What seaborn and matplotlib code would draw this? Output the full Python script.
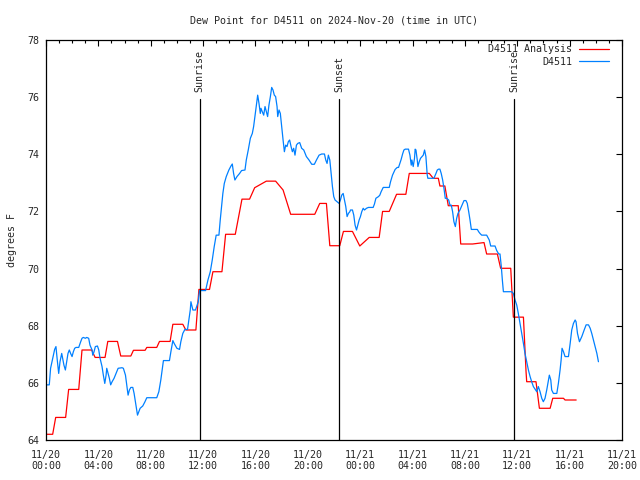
import matplotlib
matplotlib.use("Agg")
import matplotlib.pyplot as plt
import matplotlib.dates as mdates
import seaborn as sns
import pandas as pd

# time axis (UTC)
START = pd.Timestamp("2024-11-20 00:00")
END = pd.Timestamp("2024-11-21 20:00")

# D4511 Analysis: hours after 11/20 00:00, dew point (F)
ANALYSIS_HOURS = [0.0, 0.51, 0.74, 1.5, 1.73, 2.5, 2.75, 3.49, 3.75, 4.51, 4.72, 5.46,
                  5.71, 6.48, 6.68, 7.57, 7.7, 8.46, 8.67, 9.48, 9.69, 10.45, 10.68, 11.45,
                  11.68, 12.49, 12.75, 13.44, 13.72, 14.46, 14.97, 15.55, 15.94, 16.83,
                  17.54, 18.11, 18.69, 20.53, 20.91, 21.42, 21.68, 22.44, 22.72, 23.41,
                  23.97, 24.69, 25.45, 25.71, 26.22, 26.78, 27.49, 27.75, 29.28, 29.58,
                  29.97, 30.09, 30.47, 30.73, 31.49, 31.68, 32.59, 33.46, 33.66, 34.48,
                  34.73, 35.5, 35.7, 36.47, 36.67, 36.72, 37.43, 37.69, 38.51, 38.71,
                  39.53, 39.65, 40.5]
ANALYSIS_VALUES = [64.2, 64.2, 64.79, 64.79, 65.77, 65.77, 67.15, 67.15, 66.89, 66.89,
                   67.45, 67.45, 66.94, 66.94, 67.14, 67.14, 67.24, 67.24, 67.45, 67.45,
                   68.05, 68.05, 67.85, 67.85, 69.27, 69.27, 69.89, 69.89, 71.2, 71.2,
                   72.43, 72.43, 72.83, 73.06, 73.06, 72.75, 71.9, 71.9, 72.28, 72.28,
                   70.8, 70.8, 71.3, 71.3, 70.79, 71.09, 71.09, 72.0, 72.0, 72.6, 72.6,
                   73.33, 73.33, 73.16, 73.16, 72.89, 72.89, 72.2, 72.2, 70.86, 70.86,
                   70.91, 70.51, 70.51, 70.01, 70.01, 68.3, 68.3, 66.39, 66.04, 66.04,
                   65.11, 65.11, 65.46, 65.46, 65.4, 65.4]

# D4511 station observations
STATION_HOURS = [0.0, 0.25, 0.35, 0.51, 0.66, 0.76, 0.86, 0.97, 1.07, 1.2, 1.27, 1.37,
                 1.48, 1.58, 1.68, 1.78, 1.88, 1.99, 2.09, 2.19, 2.29, 2.5, 2.65, 2.75,
                 2.85, 3.01, 3.11, 3.26, 3.36, 3.52, 3.57, 3.67, 3.77, 3.93, 4.03, 4.13,
                 4.28, 4.38, 4.49, 4.59, 4.64, 4.74, 4.84, 4.94, 5.05, 5.2, 5.35, 5.51,
                 5.81, 5.91, 6.07, 6.17, 6.27, 6.37, 6.48, 6.63, 6.73, 6.83, 6.93, 6.99,
                 7.09, 7.19, 7.39, 7.55, 7.7, 8.46, 8.62, 8.77, 8.87, 8.97, 9.43, 9.54,
                 9.69, 9.79, 10.0, 10.2, 10.3, 10.45, 10.61, 10.81, 10.91, 11.02, 11.07,
                 11.22, 11.42, 11.63, 11.73, 12.19, 12.37, 12.55, 12.7, 12.85, 13.0,
                 13.21, 13.31, 13.41, 13.51, 13.62, 13.77, 13.97, 14.13, 14.23, 14.33,
                 14.43, 14.59, 14.79, 14.94, 15.2, 15.3, 15.45, 15.61, 15.76, 15.86,
                 15.96, 16.06, 16.17, 16.27, 16.37, 16.42, 16.52, 16.63, 16.73, 16.83,
                 16.93, 17.03, 17.14, 17.24, 17.34, 17.44, 17.54, 17.65, 17.7, 17.8,
                 17.9, 18.0, 18.11, 18.21, 18.31, 18.41, 18.51, 18.61, 18.72, 18.82,
                 18.92, 19.02, 19.13, 19.23, 19.38, 19.53, 19.69, 19.89, 20.09, 20.3,
                 20.5, 20.66, 20.86, 21.06, 21.27, 21.37, 21.47, 21.57, 21.68, 21.78,
                 21.88, 21.98, 22.08, 22.24, 22.39, 22.49, 22.59, 22.7, 22.8, 22.9,
                 23.0, 23.1, 23.21, 23.26, 23.41, 23.51, 23.61, 23.72, 23.82, 23.92,
                 24.02, 24.12, 24.23, 24.33, 24.48, 24.63, 24.99, 25.09, 25.2, 25.4,
                 25.5, 25.6, 25.76, 26.22, 26.32, 26.47, 26.67, 26.83, 26.93, 27.03,
                 27.13, 27.24, 27.34, 27.44, 27.69, 27.8, 27.9, 27.95, 28.05, 28.15,
                 28.2, 28.26, 28.36, 28.41, 28.51, 28.61, 28.82, 28.92, 29.02, 29.07,
                 29.12, 29.17, 29.63, 29.79, 29.89, 29.99, 30.09, 30.19, 30.3, 30.4,
                 30.5, 30.6, 30.76, 30.86, 30.96, 31.06, 31.16, 31.27, 31.37, 31.47,
                 31.62, 31.78, 31.93, 32.08, 32.18, 32.29, 32.39, 32.49, 32.95, 33.05,
                 33.15, 33.28, 33.66, 33.86, 33.97, 34.3, 34.43, 34.58, 34.68, 34.78,
                 34.86, 34.94, 35.57, 35.7, 35.83, 35.96, 36.08, 36.21, 36.34, 36.47,
                 36.59, 36.72, 36.85, 36.98, 37.1, 37.23, 37.49, 37.61, 37.74, 37.87,
                 37.99, 38.12, 38.25, 38.38, 38.45, 38.56, 38.63, 38.76, 39.02, 39.14,
                 39.27, 39.35, 39.42, 39.53, 39.65, 39.91, 40.04, 40.16, 40.29, 40.42,
                 40.49, 40.6, 40.75, 40.93, 41.11, 41.26, 41.44, 41.57, 41.69, 41.82,
                 41.95, 42.08, 42.2]
STATION_VALUES = [65.93, 65.93, 66.51, 66.86, 67.17, 67.27, 66.8, 66.33, 66.74, 67.03,
                  66.86, 66.62, 66.45, 66.74, 67.03, 67.15, 67.03, 66.92, 67.09, 67.21,
                  67.24, 67.24, 67.44, 67.56, 67.59, 67.56, 67.59, 67.56, 67.32, 67.15,
                  66.97, 67.09, 67.27, 67.29, 67.15, 66.86, 66.57, 66.27, 65.98, 66.27,
                  66.51, 66.33, 66.16, 65.93, 66.04, 66.16, 66.33, 66.51, 66.53, 66.51,
                  66.27, 65.93, 65.57, 65.75, 65.84, 65.84, 65.63, 65.34, 65.05, 64.87,
                  64.99, 65.11, 65.19, 65.33, 65.48, 65.48, 65.69, 66.1, 66.45, 66.78,
                  66.78, 67.09, 67.48, 67.38, 67.21, 67.17, 67.44, 67.73, 67.87, 67.87,
                  68.2, 68.55, 68.84, 68.55, 68.55, 68.84, 69.23, 69.23, 69.6, 69.89,
                  70.3, 70.77, 71.17, 71.17, 71.7, 72.17, 72.63, 72.98, 73.22, 73.45,
                  73.59, 73.66, 73.33, 73.1, 73.22, 73.33, 73.43, 73.45, 73.8, 74.15,
                  74.56, 74.73, 74.97, 75.32, 75.67, 76.07, 75.78, 75.43, 75.61, 75.49,
                  75.37, 75.67, 75.49, 75.32, 75.72, 76.02, 76.34, 76.25, 76.07, 76.02,
                  75.67, 75.32, 75.55, 75.43, 74.97, 74.5, 74.09, 74.32, 74.27, 74.44,
                  74.5, 74.27, 74.09, 74.21, 73.97, 74.32, 74.38, 74.41, 74.21, 74.15,
                  73.92, 73.8, 73.65, 73.65, 73.8, 73.97, 74.01, 74.01, 73.8, 73.68,
                  73.97, 73.8, 73.33, 72.87, 72.52, 72.4, 72.34, 72.28, 72.4, 72.57,
                  72.63, 72.4, 72.17, 71.82, 71.93, 71.99, 72.05, 72.05, 71.87, 71.52,
                  71.35, 71.52, 71.7, 71.82, 71.99, 72.11, 72.05, 72.11, 72.14, 72.14,
                  72.26, 72.46, 72.52, 72.57, 72.69, 72.84, 72.84, 73.04, 73.27, 73.47,
                  73.54, 73.54, 73.68, 73.82, 74.01, 74.15, 74.18, 74.18, 73.97, 73.62,
                  73.8, 73.57, 73.86, 74.18, 74.15, 73.8, 73.57, 73.74, 73.86, 73.97,
                  74.15, 73.92, 73.62, 73.28, 73.16, 73.16, 73.33, 73.45, 73.48, 73.48,
                  73.33, 73.1, 72.81, 72.46, 72.46, 72.4, 72.22, 72.22, 71.99, 71.64,
                  71.47, 71.76, 71.93, 72.05, 72.22, 72.38, 72.38, 72.28, 71.99, 71.7,
                  71.37, 71.37, 71.29, 71.23, 71.17, 71.17, 71.0, 70.79, 70.79, 70.63,
                  70.51, 70.51, 70.07, 69.6, 69.19, 69.19, 69.13, 68.9, 68.72, 68.43,
                  68.08, 67.73, 67.38, 67.03, 66.74, 66.45, 66.22, 66.04, 65.87, 65.69,
                  65.87, 65.69, 65.46, 65.34, 65.46, 65.75, 66.1, 66.27, 66.1, 65.75,
                  65.63, 65.63, 65.98, 66.45, 66.8, 67.21, 67.09, 66.92, 66.92, 67.38,
                  67.85, 68.08, 68.2, 68.14, 67.73, 67.44, 67.62, 67.85, 68.03, 68.03,
                  67.91, 67.73, 67.5, 67.27, 67.03, 66.74]

SUN_LABELS = ["Sunrise", "Sunset", "Sunrise"]
SUN_TIMES = ["2024-11-20 11:45", "2024-11-20 22:23", "2024-11-21 11:47"]

Y_TICKS = [64, 66, 68, 70, 72, 74, 76, 78]

RED = "#ff0000"
BLUE = "#0080ff"
FONT_SIZE = 7.2

sns.set_style("white")
plt.rcParams['font.family'] = ['DejaVu Sans Mono', 'DejaVu Sans']
plt.rcParams['font.size'] = FONT_SIZE

analysis = pd.DataFrame({
    'time': START + pd.to_timedelta(ANALYSIS_HOURS, unit='h'),
    'dewpoint': ANALYSIS_VALUES,
})
station = pd.DataFrame({
    'time': START + pd.to_timedelta(STATION_HOURS, unit='h'),
    'dewpoint': STATION_VALUES,
})

fig = plt.figure(figsize=(6.4, 4.8), dpi=100)
ax = fig.add_axes([46 / 640, 40 / 480, 576 / 640, 400 / 480])

sns.lineplot(data=analysis, x='time', y='dewpoint', color=RED, linewidth=0.9,
             estimator=None, label='D4511 Analysis', ax=ax)
sns.lineplot(data=station, x='time', y='dewpoint', color=BLUE, linewidth=0.9,
             estimator=None, label='D4511', ax=ax)

# sunrise / sunset markers
for label, t in zip(SUN_LABELS, SUN_TIMES):
    t = pd.Timestamp(t)
    ax.axvline(t, ymin=0, ymax=0.853, color='black', linewidth=0.9)
    ax.text(t, 0.87, label, transform=ax.get_xaxis_transform(), rotation=90,
            ha='center', va='bottom', fontsize=FONT_SIZE)

ax.set_xlim(START, END)
ax.set_ylim(64, 78)
ax.set_yticks(Y_TICKS)
ax.xaxis.set_major_locator(mdates.HourLocator(byhour=range(0, 24, 4)))
ax.xaxis.set_minor_locator(mdates.HourLocator())
ax.xaxis.set_major_formatter(mdates.DateFormatter('%m/%d\n%H:%M'))

ax.tick_params(which='both', direction='in', top=True, right=True, width=0.8,
               labelsize=FONT_SIZE, color='black')
ax.tick_params(which='major', length=4)
ax.tick_params(which='minor', length=2)
ax.tick_params(axis='x', pad=7)
ax.tick_params(axis='y', pad=5)

for spine in ax.spines.values():
    spine.set_visible(True)
    spine.set_color('black')
    spine.set_linewidth(0.9)

ax.set_xlabel('')
ax.set_ylabel('degrees F', fontsize=FONT_SIZE, labelpad=7)
ax.set_title('Dew Point for D4511 on 2024-Nov-20 (time in UTC)', fontsize=FONT_SIZE, pad=12)

ax.legend(loc='upper right', bbox_to_anchor=(0.988, 1.004), frameon=False,
          markerfirst=False, handlelength=3.0, handletextpad=0.7, labelspacing=0.25,
          borderaxespad=0.2, fontsize=FONT_SIZE)

fig.savefig('out.png', dpi=100, facecolor='white')
